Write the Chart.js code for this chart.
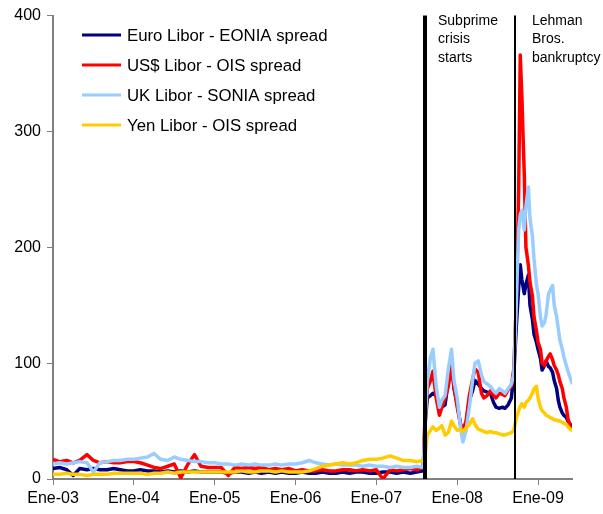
<!DOCTYPE html>
<html>
<head>
<meta charset="utf-8">
<title>Libor spreads</title>
<script src="https://cdn.jsdelivr.net/npm/chart.js@4.4.1/dist/chart.umd.min.js"></script>
<style>
  body { margin: 0; background: #fff; }
  canvas { display: block; }
</style>
</head>
<body>
<canvas id="spreads" width="603" height="514"></canvas>
<script>
// fechas en años decimales (mensual hasta ago-07, luego más denso)
var fechas = [
  2003.00, 2003.08, 2003.17, 2003.25, 2003.33, 2003.42, 2003.50, 2003.58, 2003.67, 2003.75, 2003.83, 2003.92,
  2004.00, 2004.08, 2004.17, 2004.25, 2004.33, 2004.42, 2004.50, 2004.58, 2004.67, 2004.75, 2004.83, 2004.92,
  2005.00, 2005.08, 2005.17, 2005.25, 2005.33, 2005.42, 2005.50, 2005.58, 2005.67, 2005.75, 2005.83, 2005.92,
  2006.00, 2006.08, 2006.17, 2006.25, 2006.33, 2006.42, 2006.50, 2006.58, 2006.67, 2006.75, 2006.83, 2006.92,
  2007.00, 2007.08, 2007.17, 2007.25, 2007.33, 2007.42, 2007.50, 2007.58,
  2007.60, 2007.63, 2007.67, 2007.70, 2007.74, 2007.78, 2007.81, 2007.85, 2007.89, 2007.93, 2007.96,
  2008.00, 2008.04, 2008.07, 2008.11, 2008.15, 2008.19, 2008.22, 2008.26, 2008.30, 2008.33, 2008.37,
  2008.41, 2008.45, 2008.48, 2008.52, 2008.56, 2008.59, 2008.63, 2008.67, 2008.70, 2008.73, 2008.76,
  2008.78, 2008.80, 2008.83, 2008.85, 2008.88, 2008.90, 2008.93, 2008.95, 2008.98,
  2009.00, 2009.03, 2009.05, 2009.08, 2009.10, 2009.13, 2009.15, 2009.18, 2009.20, 2009.23, 2009.25,
  2009.27, 2009.30, 2009.32, 2009.35, 2009.37, 2009.40, 2009.42
];

var euro = [
  9, 10, 8, 3, 9, 8, 9, 8, 8, 9, 8, 7,
  7, 8, 7, 7, 6, 7, 6, 7, 6, 7, 6, 6,
  6, 6, 5, 6, 6, 5, 6, 5, 6, 5, 6, 5,
  5, 6, 5, 5, 6, 5, 5, 6, 5, 6, 6, 5,
  5, 6, 6, 5, 6, 5, 6, 7,
  45, 70, 72, 74, 72, 60, 62, 64, 85, 100, 78,
  65, 47, 36, 48, 68, 76, 85, 82, 78, 76, 75,
  74, 66, 62, 61, 62, 61, 64, 70, 90, 130, 165,
  185, 172, 160, 168, 176, 150, 138, 125, 118,
  112, 104, 94, 98, 102, 97, 96, 92, 85, 78, 68,
  62, 57, 55, 53, 50, 47, 45
];

var usd = [
  17, 15, 16, 14, 16, 21, 16, 14, 15, 14, 14, 15,
  15, 14, 12, 10, 9, 11, 13, 1, 13, 21, 11, 10,
  10, 10, 3, 10, 9, 10, 9, 10, 8, 9, 8, 9,
  7, 8, 7, 7, 8, 7, 7, 8, 8, 7, 8, 7,
  8, 0, 8, 7, 8, 9, 8, 10,
  50, 78, 85, 93, 70, 55, 62, 70, 80, 98, 80,
  62, 48, 42, 50, 72, 86, 95, 92, 74, 70, 72,
  76, 72, 70, 74, 73, 72, 77, 80, 95, 150, 248,
  366, 330, 262, 200, 185, 170, 158, 140, 128,
  118, 112, 100, 98, 102, 106, 108, 103, 98, 94, 90,
  84, 78, 70, 62, 52, 45, 43
];

var uk = [
  13, 14, 13, 14, 15, 14, 6, 14, 15, 16, 16, 17,
  17, 18, 19, 22, 17, 16, 19, 17, 16, 15, 15, 14,
  14, 13, 13, 12, 13, 12, 13, 12, 12, 13, 12, 13,
  13, 14, 16, 14, 13, 12, 13, 12, 12, 12, 11, 12,
  11, 11, 10, 11, 10, 10, 11, 10,
  45, 85, 105, 112, 80, 62, 68, 72, 95, 112, 85,
  70, 45, 32, 42, 62, 85, 100, 102, 90, 84, 82,
  80, 76, 74, 78, 76, 74, 78, 82, 90, 150, 215,
  228, 232, 215, 235, 252, 225, 210, 190, 168,
  160, 140, 132, 135, 142, 160, 163, 167, 150, 140, 130,
  120, 112, 105, 98, 93, 87, 83
];

var yen = [
  4, 4, 5, 4, 4, 3, 4, 4, 4, 5, 5, 5,
  5, 5, 4, 5, 5, 6, 5, 6, 6, 6, 6, 6,
  6, 6, 6, 6, 7, 6, 6, 7, 7, 6, 7, 6,
  6, 6, 7, 9, 11, 12, 13, 14, 13, 14, 16, 17,
  17, 18, 20, 18, 16, 16, 15, 16,
  18, 38, 42, 45, 42, 44, 46, 38, 40, 50, 46,
  42, 43, 41, 44, 47, 52, 47, 43, 42, 41, 40,
  41, 40, 40, 39, 38, 38, 39, 40, 42, 52, 59,
  63, 65, 62, 66, 68, 70, 74, 78, 80,
  70, 62, 59, 57, 55, 54, 53, 52, 51, 51, 50,
  50, 49, 48, 47, 45, 43, 42
];

var series = ['Euro Libor - EONIA spread', 'US$ Libor - OIS spread', 'UK Libor - SONIA spread', 'Yen Libor - OIS spread'];
var xTicks = [2003, 2004, 2005, 2006, 2007, 2008, 2009];
var yTicks = [0, 100, 200, 300, 400];
var eventos = [2007.60, 2008.71];
var eventoTextos = [['Subprime', 'crisis', 'starts'], ['Lehman', 'Bros.', 'bankruptcy']];

var fuente = '"Liberation Sans", Arial, sans-serif';

function puntos(vals) {
  return vals.map(function (v, i) { return { x: fechas[i], y: v }; });
}

// lineas verticales y leyenda dibujadas a mano
var extras = {
  id: 'extras',
  afterDatasetsDraw: function (chart) {
    var c = chart.ctx;
    var area = chart.chartArea;
    var xs = chart.scales.x;
    var anchos = [4, 2];
    var sangria = [13, 17];
    c.save();
    eventos.forEach(function (f, i) {
      var px = Math.round(xs.getPixelForValue(f));
      c.strokeStyle = '#000';
      c.lineWidth = anchos[i];
      c.beginPath();
      c.moveTo(px, area.top);
      c.lineTo(px, area.bottom);
      c.stroke();
      c.fillStyle = '#000';
      c.font = '14px ' + fuente;
      c.textBaseline = 'middle';
      c.textAlign = 'left';
      eventoTextos[i].forEach(function (t, j) {
        c.fillText(t, px + sangria[i], 21 + j * 18.5);
      });
    });
    // leyenda
    chart.data.datasets.forEach(function (ds, i) {
      var y = 35 + i * 30;
      c.strokeStyle = ds.borderColor;
      c.lineWidth = 3;
      c.beginPath();
      c.moveTo(82, y);
      c.lineTo(121, y);
      c.stroke();
      c.fillStyle = '#000';
      c.font = '16.8px ' + fuente;
      c.textBaseline = 'middle';
      c.fillText(ds.label, 127, y + 1);
    });
    c.restore();
  }
};

var ctx = document.getElementById('spreads').getContext('2d');
var grafico = new Chart(ctx, {
  type: 'line',
  data: {
    datasets: [{
      label: series[0],
      data: puntos(euro),
      borderColor: '#000080',
      order: 4
    }, {
      label: series[1],
      data: puntos(usd),
      borderColor: '#ff0000',
      order: 3
    }, {
      label: series[2],
      data: puntos(uk),
      borderColor: '#99ccff',
      order: 2
    }, {
      label: series[3],
      data: puntos(yen),
      borderColor: '#ffcc00',
      order: 1
    }]
  },
  options: {
    responsive: false,
    animation: false,
    layout: { padding: { top: 13, right: 31, left: 0, bottom: 0 } },
    elements: {
      point: { radius: 0 },
      line: { borderWidth: 3.5, tension: 0, borderJoinStyle: 'round', borderCapStyle: 'round' }
    },
    plugins: {
      legend: { display: false },
      tooltip: { enabled: false }
    },
    scales: {
      x: {
        type: 'linear',
        min: 2003,
        max: 2009.42,
        afterBuildTicks: function (s) { s.ticks = xTicks.map(function (v) { return { value: v }; }); },
        afterFit: function (s) { s.height = 35; },
        ticks: {
          color: '#000',
          padding: 4,
          maxRotation: 0,
          font: { family: fuente, size: 16 },
          callback: function (v) { return 'Ene-' + String(v).slice(2); }
        },
        grid: { drawOnChartArea: false, color: '#808080', tickLength: 6 },
        border: { color: '#808080', width: 2 }
      },
      y: {
        min: 0,
        max: 400,
        afterBuildTicks: function (s) { s.ticks = yTicks.map(function (v) { return { value: v }; }); },
        afterFit: function (s) { s.width = 53; },
        ticks: {
          color: '#000',
          padding: 6,
          font: { family: fuente, size: 16 }
        },
        grid: { drawOnChartArea: false, color: '#808080', tickLength: 6 },
        border: { color: '#808080', width: 2 }
      }
    }
  },
  plugins: [extras]
});
</script>
</body>
</html>
